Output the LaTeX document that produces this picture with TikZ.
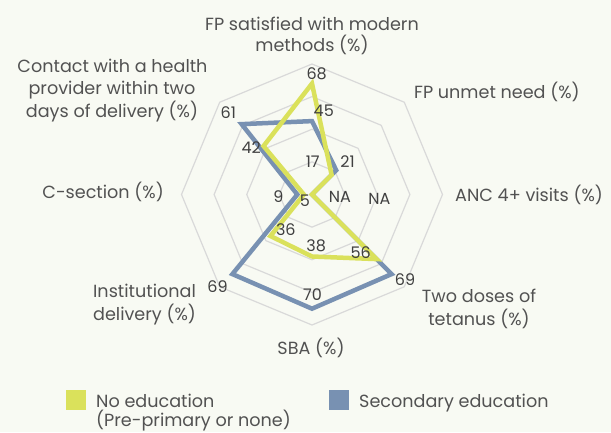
\documentclass[tikz,border=0pt]{standalone}
\usepackage{fontspec}
\setmainfont{Poppins}
\usetikzlibrary{positioning}
\definecolor{bgcol}{HTML}{F8FAF3}
\definecolor{noedu}{HTML}{DAE15B}
\definecolor{secedu}{HTML}{7891B2}
\definecolor{gridcol}{HTML}{D9D9D9}
\definecolor{labcol}{HTML}{525252}
\definecolor{numcol}{HTML}{404040}
\tikzset{
  catlabel/.style={font=\fontsize{17.6}{20}\selectfont, text=labcol, inner sep=0pt, anchor=base},
  vallabel/.style={font=\fontsize{16}{18}\selectfont, text=numcol, inner sep=0pt},
  gridring/.style={draw=gridcol, line width=1.2pt},
  noeduline/.style={draw=noedu, line width=4.5pt},
  seceduline/.style={draw=secedu, line width=4.5pt},
  legendbox/.style={rectangle, minimum size=20pt, inner sep=0pt}
}

\begin{document}
\begin{tikzpicture}[x=1pt,y=-1pt]
\fill[bgcol] (0,0) rectangle (611,432);
\useasboundingbox (0,0) rectangle (611,432);

% radar grid and the two series
\begin{scope}[shift={(312,194.5)}, x=1.63125pt, y=1.63125pt]
\foreach \r in {20,40,60,80}
  \draw[gridring] (90:\r) -- (45:\r) -- (0:\r) -- (-45:\r) -- (-90:\r) -- (-135:\r) -- (180:\r) -- (135:\r) -- cycle;
\draw[seceduline] (90:45) -- (45:21) -- (0:0) -- (-45:69) -- (-90:70) -- (-135:69) -- (180:9) -- (135:61) -- cycle;
\draw[noeduline] (90:68) -- (45:17) -- (0:0) -- (-45:56) -- (-90:38) -- (-135:36) -- (180:5) -- (135:42) -- cycle;
\end{scope}

% data labels
\node[vallabel] (fpsatno) at (316.7,74.2) {68};
\node[vallabel] (fpsatsec) at (323.8,111.2) {45};
\node[vallabel] (unmetno) at (312.8,161.7) {17};
\node[vallabel] (unmetsec) at (347.5,161.7) {21};
\node[vallabel] (ancno) at (340,196.7) {NA};
\node[vallabel] (ancsec) at (379.3,199.2) {NA};
\node[vallabel] (tetno) at (360.8,253) {56};
\node[vallabel] (tetsec) at (405,280) {69};
\node[vallabel] (sbano) at (316.2,245.5) {38};
\node[vallabel] (sbasec) at (312.5,295) {70};
\node[vallabel] (instno) at (285.8,229.7) {36};
\node[vallabel] (instsec) at (217.5,286.7) {69};
\node[vallabel] (csecsec) at (278.3,196.7) {9};
\node[vallabel] (csecno) at (305,200.8) {5};
\node[vallabel] (contactno) at (251.3,147.5) {42};
\node[vallabel] (contactsec) at (228.3,113) {61};

% axis labels
\node[catlabel] (fpsat1) at (312,30) {FP satisfied with modern};
\node[catlabel] (fpsat2) at (312,51.7) {methods (\%)};
\node[catlabel, anchor=base west] (fpunmet) at (414,98.5) {FP unmet need (\%)};
\node[catlabel, anchor=base west] (anc) at (455,201.7) {ANC 4+ visits (\%)};
\node[catlabel] (tetanus1) at (479,302.7) {Two doses of};
\node[catlabel] (tetanus2) at (479,325) {tetanus (\%)};
\node[catlabel] (sba) at (311,354) {SBA (\%)};
\node[catlabel] (instdel1) at (144.5,297.3) {Institutional};
\node[catlabel] (instdel2) at (144.5,320) {delivery (\%)};
\node[catlabel, anchor=base east] (csec) at (164,198.3) {C-section (\%)};
\node[catlabel] (contact1) at (112.5,72.3) {Contact with a health};
\node[catlabel] (contact2) at (112,94.7) {provider within two};
\node[catlabel] (contact3) at (112,117) {days of delivery (\%)};

% legend
\node[legendbox, fill=noedu] (noedukey) at (76,400) {};
\node[catlabel, anchor=base west] (noedutext) at (96,407.5) {No education};
\node[catlabel, anchor=base west] (noedutext2) at (96,426) {(Pre-primary or none)};
\node[legendbox, fill=secedu] (secedukey) at (339,400) {};
\node[catlabel, anchor=base west] (secedutext) at (359,407.5) {Secondary education};

\end{tikzpicture}
\end{document}
